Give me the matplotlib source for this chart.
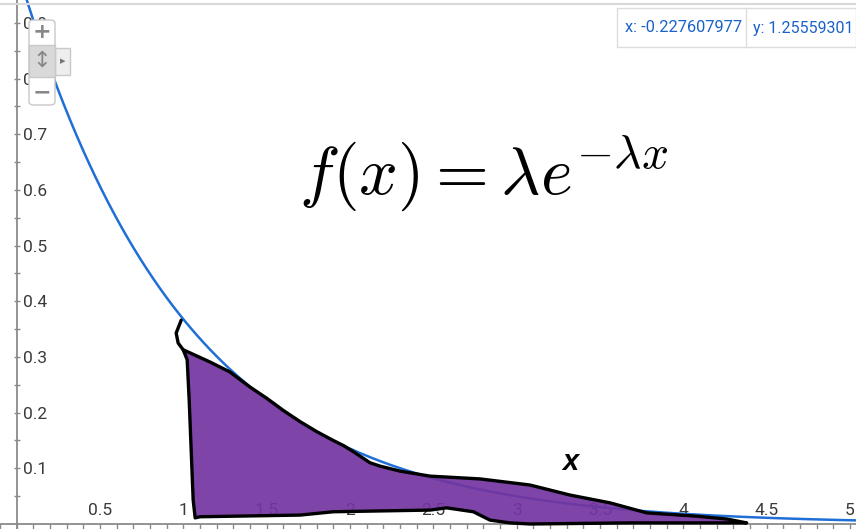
import numpy as np
import matplotlib.pyplot as plt
from matplotlib.patches import FancyBboxPatch, Rectangle, Polygon
from matplotlib.lines import Line2D

plt.rcParams['mathtext.fontset'] = 'cm'

lam = 1.0
x_ticks = [0.5, 1, 1.5, 2, 2.5, 3, 3.5, 4, 4.5, 5]
y_ticks = [0.1, 0.2, 0.3, 0.4, 0.5, 0.6, 0.7, 0.8, 0.9]

# hand drawn shaded region under the curve (outline, clockwise)
area_x = [0.999, 1.160, 1.220, 1.280, 1.400, 1.500, 1.600, 1.700, 1.800, 1.900,
          1.960, 2.020, 2.080, 2.120, 2.180, 2.300, 2.480, 2.780, 3.080, 3.320,
          3.560, 3.780, 4.080, 4.260, 4.380, 4.280, 3.680, 3.080, 2.960, 2.840,
          2.740, 2.580, 2.480, 1.900, 1.700, 1.100, 1.071, 1.059, 1.035, 1.023]
area_y = [0.313, 0.291, 0.282, 0.273, 0.246, 0.226, 0.204, 0.184, 0.166, 0.150,
          0.141, 0.130, 0.118, 0.110, 0.104, 0.095, 0.086, 0.081, 0.070, 0.052,
          0.038, 0.020, 0.014, 0.009, 0.002, 0.002, 0.002, 0.000, 0.002, 0.007,
          0.022, 0.029, 0.025, 0.022, 0.016, 0.013, 0.011, 0.043, 0.223, 0.295]
hook_x = [0.999, 0.969, 0.957, 0.987]
hook_y = [0.313, 0.325, 0.343, 0.366]

W, H = 856, 529
fig = plt.figure(figsize=(W / 100, H / 100), dpi=100)
ax = fig.add_axes([0, 0, 1, 1])

x0, x_scale = 16.5, 166.7
y0, y_scale = 524, 556.7
ax.set_xlim(-x0 / x_scale, (W - x0) / x_scale)
ax.set_ylim(-(H - y0) / y_scale, y0 / y_scale)

xs = np.linspace(0, 5.1, 400)
ax.plot(xs, lam * np.exp(-lam * xs), color='#1f6fd6', lw=1.8, zorder=2)

ax.add_patch(Polygon(np.column_stack([area_x, area_y]), closed=True,
                     facecolor='#7334a0', alpha=0.92, edgecolor='none', zorder=4))
ax.add_patch(Polygon(np.column_stack([area_x, area_y]), closed=True,
                     facecolor='none', edgecolor='black', lw=2.4,
                     joinstyle='round', zorder=5))
ax.plot(hook_x, hook_y, color='black', lw=2.4, solid_capstyle='round', zorder=5)

# axes through the origin with labels inside the plot
for side in ['top', 'right']:
    ax.spines[side].set_visible(False)
for side in ['left', 'bottom']:
    ax.spines[side].set_position(('data', 0))
    ax.spines[side].set_color('#8a8a8a')
    ax.spines[side].set_linewidth(1.3)

ax.set_xticks(x_ticks)
ax.set_xticklabels([f'{v:g}' for v in x_ticks])
ax.set_xticks(np.arange(-0.1, 5.1, 0.1), minor=True)
ax.set_yticks(y_ticks)
ax.set_yticklabels([f'{v:g}' for v in y_ticks])
ax.set_yticks(np.arange(0.05, 0.95, 0.1), minor=True)

ax.tick_params(axis='x', which='both', direction='out', length=4, width=1,
               color='#8a8a8a', pad=-19, labelsize=12.5, labelcolor='#3a3a3a')
ax.tick_params(axis='y', which='both', direction='inout', length=5, width=1,
               color='#8a8a8a', pad=-7, labelsize=12.5, labelcolor='#3a3a3a')
for lbl in ax.get_yticklabels():
    lbl.set_ha('left')
for lbl in ax.get_xticklabels() + ax.get_yticklabels():
    lbl.set_family('Roboto')

ax.text(2.80, 0.63, r'$f(x) = \lambda e^{-\lambda x}$', fontsize=49,
        ha='center', va='center', zorder=6)
ax.text(3.32, 0.112, 'x', fontsize=21, fontweight='bold', fontstyle='italic',
        family='Liberation Sans', ha='center', va='center', zorder=6)


def fx(px):
    return px / W


def fy(py):
    return 1 - py / H


# header border
fig.add_artist(Line2D([0, 1], [fy(4), fy(4)], color='#d8d8d8', lw=1.5))

# coordinate readout
fig.add_artist(Rectangle((fx(617), fy(47)), fx(856) - fx(617), fy(8) - fy(47),
                         facecolor='white', edgecolor='#dcdcdc', lw=1))
fig.add_artist(Line2D([fx(746), fx(746)], [fy(47), fy(8)], color='#dcdcdc', lw=1))
fig.text(fx(625), fy(28), 'x: -0.227607977', color='#1a62c9', fontsize=11.8,
         family='Roboto', va='center', ha='left')
fig.text(fx(753), fy(28), 'y: 1.25559301', color='#1a62c9', fontsize=11.5,
         family='Roboto', va='center', ha='left')

# zoom control
fig.add_artist(Rectangle((fx(55), fy(75)), fx(15), fy(48) - fy(75),
                         facecolor='#eeeeee', edgecolor='#c8c8c8', lw=1))
fig.text(fx(62.5), fy(61.5), '\u25B8', color='#777777', fontsize=8,
         ha='center', va='center')
fig.add_artist(FancyBboxPatch((fx(29), fy(105)), fx(26), fy(20) - fy(105),
                              boxstyle='round,pad=0,rounding_size=0.006',
                              facecolor='white', edgecolor='#c8c8c8', lw=1))
fig.add_artist(Rectangle((fx(29), fy(77)), fx(26), fy(45) - fy(77),
                         facecolor='#d9d9d9', edgecolor='#c8c8c8', lw=1))
fig.text(fx(42), fy(32), '+', color='#888888', fontsize=16, fontweight='bold',
         ha='center', va='center')
fig.text(fx(42), fy(61), '\u2195', color='#888888', fontsize=16,
         ha='center', va='center')
fig.text(fx(42), fy(92), '\u2212', color='#888888', fontsize=16, fontweight='bold',
         ha='center', va='center')

fig.savefig('out.png', dpi=100)
